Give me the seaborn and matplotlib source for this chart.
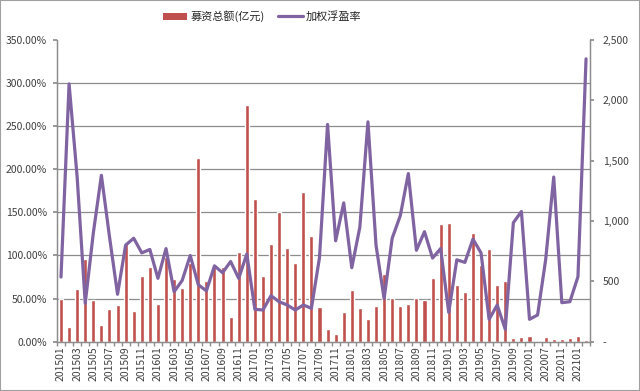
import matplotlib
matplotlib.use("Agg")
import matplotlib.pyplot as plt
import matplotlib.ticker as mticker
from matplotlib.patches import Patch, Rectangle
from matplotlib.lines import Line2D
import numpy as np
import pandas as pd
import seaborn as sns

months = [
    "201501", "201502", "201503", "201504", "201505", "201506", "201507", "201508", "201509", "201510", "201511", "201512",
    "201601", "201602", "201603", "201604", "201605", "201606", "201607", "201608", "201609", "201610", "201611", "201612",
    "201701", "201702", "201703", "201704", "201705", "201706", "201707", "201708", "201709", "201710", "201711", "201712",
    "201801", "201802", "201803", "201804", "201805", "201806", "201807", "201808", "201809", "201810", "201811", "201812",
    "201901", "201902", "201903", "201904", "201905", "201906", "201907", "201908", "201909",
    "201910", "202001", "202003", "202007", "202009", "202011", "202012", "202101", "202102",
]

# 募资总额(亿元) - right axis
amount = [
    352, 120, 437, 683, 345, 140, 268, 302, 815, 254, 542, 619,
    316, 698, 520, 443, 650, 1519, 505, 633, 616, 207, 746, 1961,
    1180, 542, 809, 1077, 779, 655, 1243, 878, 287, 105, 62, 246,
    428, 280, 190, 296, 560, 363, 296, 315, 363, 345, 528, 972,
    984, 472, 408, 902, 638, 770, 470, 506, 34,
    41, 50, 0, 41, 22, 19, 33, 44, 17,
]

# 加权浮盈率 (%) - left axis
rate = [
    75, 299, 191, 44.5, 126, 193, 122, 55, 112, 120, 103, 107,
    73.5, 108, 58, 71, 100, 66, 59, 88, 80, 93, 73.5, 101.7,
    37.6, 36.8, 53.4, 46.4, 42.6, 36.8, 42.6, 38.7, 97.5, 252, 117, 161,
    85.8, 133, 255, 112, 50, 120, 146, 195, 106, 127.6, 97, 108,
    34, 95, 92, 119, 103, 26, 42.6, 14.4, 138,
    151, 26, 31, 95, 191, 45.3, 46.4, 75.4, 328,
]

bar_color = "#C0504D"
line_color = "#8064A2"
axis_color = "#8c8c8c"

sns.set_theme(style="white")
plt.rcParams['font.family'] = ['Noto Sans CJK SC', 'DejaVu Sans']

df = pd.DataFrame({"month": months, "amount": amount, "rate": rate})
df["pos"] = np.arange(len(df))
n = len(df)

fig, ax = plt.subplots(figsize=(6.4, 3.91), dpi=100)
fig.subplots_adjust(left=0.089, right=0.922, top=0.898, bottom=0.126)
ax2 = ax.twinx()
# bars live on the bottom axes but use the right-hand scale, line on top uses the left one
ax.yaxis.tick_right()
ax.yaxis.set_label_position("right")
ax2.yaxis.tick_left()
ax2.yaxis.set_label_position("left")

sns.barplot(data=df, x="month", y="amount", color=bar_color, saturation=1,
            width=0.5, ax=ax)
sns.lineplot(data=df, x="pos", y="rate", color=line_color, linewidth=2.3, ax=ax2)

ax.set_xlim(-0.5, n - 0.5)
ax.set_ylim(0, 2500)
ax2.set_ylim(0, 350)

# right axis
ax.set_yticks(np.arange(0, 2501, 500))
ax.yaxis.set_major_formatter(mticker.FuncFormatter(lambda v, p: "-" if v == 0 else f"{v:,.0f}"))
ax.set_yticks(np.linspace(0, 2500, 8), minor=True)
ax.grid(axis="y", which="minor", color=axis_color, linewidth=0.9)
ax.set_axisbelow(True)
ax.tick_params(axis="y", which="minor", length=0)
ax.tick_params(axis="y", which="major", length=3, color=axis_color, labelsize=7.5,
               labelcolor="#404040", pad=6)

# left axis
ax2.set_yticks(np.arange(0, 351, 50))
ax2.yaxis.set_major_formatter(mticker.FuncFormatter(lambda v, p: f"{v:.2f}%"))
ax2.tick_params(axis="y", length=3, color=axis_color, labelsize=7.5, labelcolor="#404040", pad=4)

# x axis
ax.set_xticks(np.arange(0, n, 2))
ax.set_xticklabels(months[::2], rotation=90)
ax.set_xticks(np.arange(-0.5, n, 1), minor=True)
ax.tick_params(axis="x", which="major", length=0, labelsize=7.5, labelcolor="#404040", pad=3)
ax.tick_params(axis="x", which="minor", length=3, color=axis_color, bottom=True)

for a in (ax, ax2):
    a.set_xlabel("")
    a.set_ylabel("")
    a.spines["top"].set_visible(False)
    for s in ("left", "right", "bottom"):
        a.spines[s].set_color(axis_color)
        a.spines[s].set_linewidth(0.9)

handles = [Patch(facecolor=bar_color, edgecolor="none"),
           Line2D([0], [0], color=line_color, linewidth=2.3)]
fig.legend(handles, ["募资总额(亿元)", "加权浮盈率"], loc="center",
           bbox_to_anchor=(0.41, 0.958), ncol=2, frameon=False, fontsize=8,
           handlelength=2.2, handleheight=0.6, columnspacing=1.2, handletextpad=0.3)

fig.patches.append(Rectangle((0, 0), 1, 1, transform=fig.transFigure, fill=False,
                             edgecolor="#a0a0a0", linewidth=1.5))

fig.savefig("out.png", dpi=100)
